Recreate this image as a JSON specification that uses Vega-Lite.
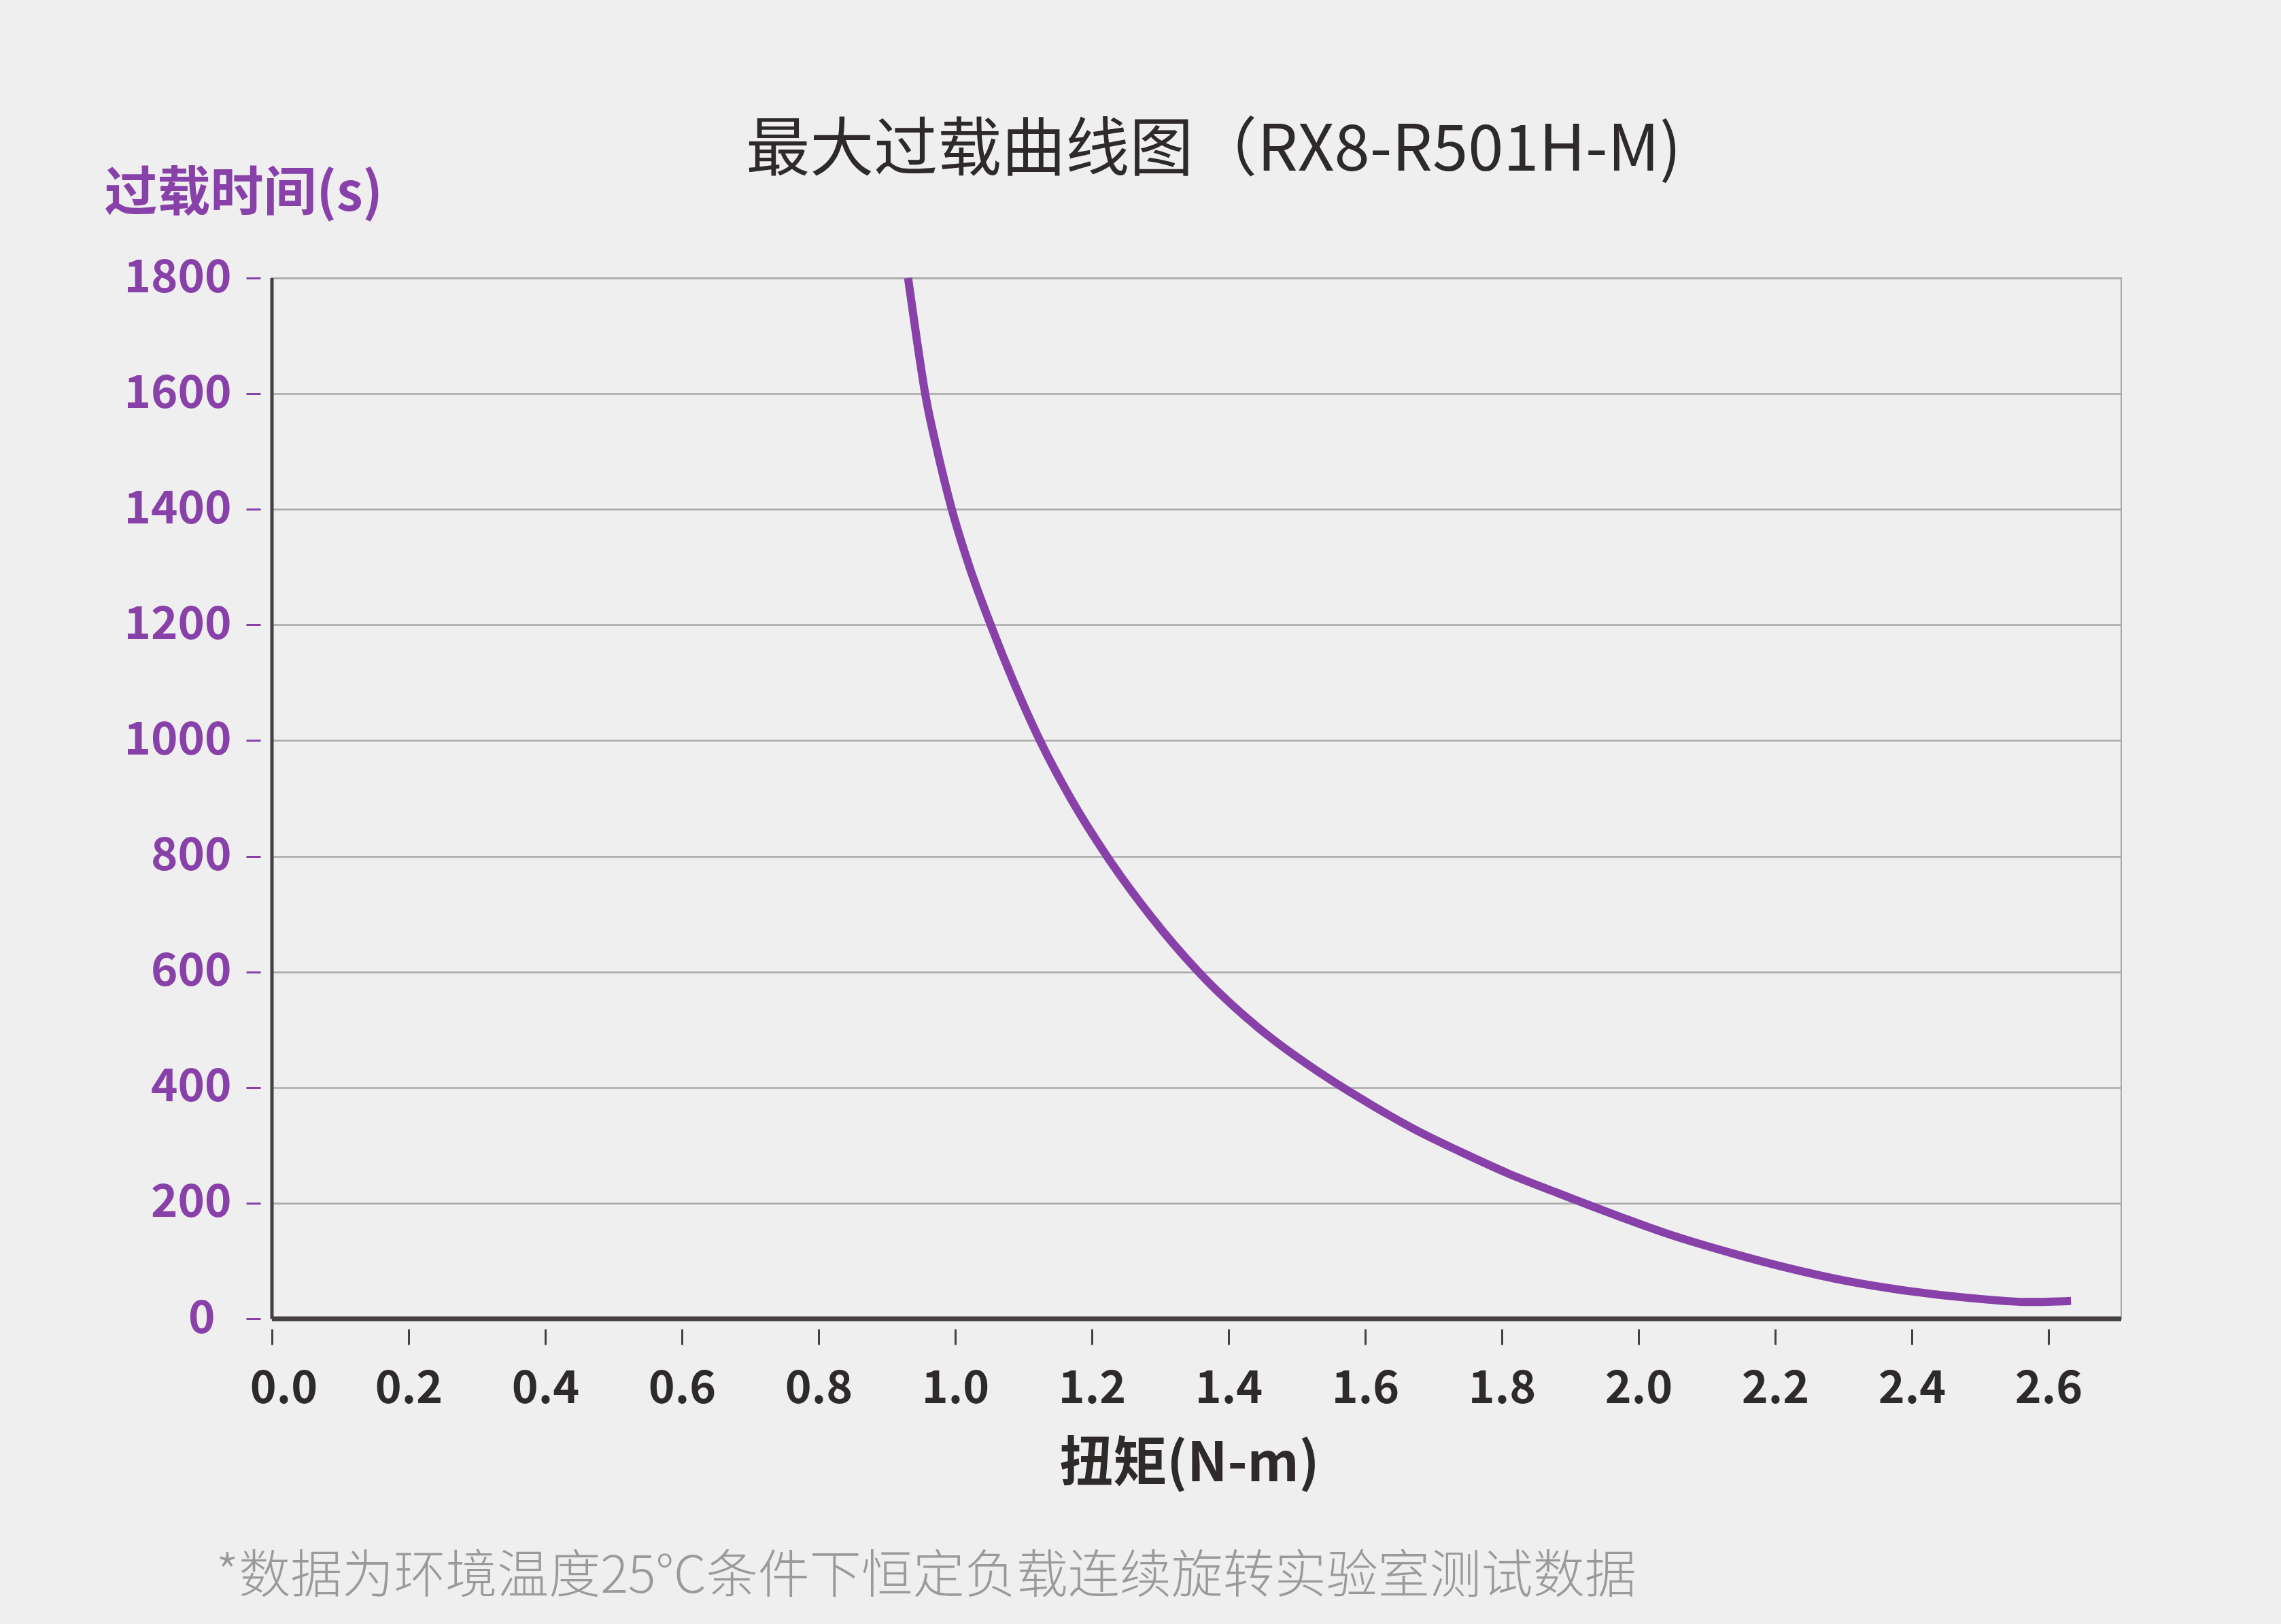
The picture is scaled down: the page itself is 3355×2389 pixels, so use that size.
{
  "$schema": "https://vega.github.io/schema/vega-lite/v6.json",
  "width": 2720,
  "height": 1531,
  "autosize": "none",
  "padding": {"left": 400, "top": 409, "right": 235, "bottom": 449},
  "background": "#efefef",
  "config": {
    "font": "Noto Sans CJK SC",
    "view": {"stroke": "#a9a9a9", "strokeWidth": 2}
  },
  "title": {
    "text": "最大过载曲线图（RX8-R501H-M)",
    "fontSize": 94,
    "fontWeight": "normal",
    "color": "#2f2a2a",
    "anchor": "middle",
    "frame": "group",
    "baseline": "bottom",
    "offset": 135,
    "dy": 253,
    "dx": 25
  },
  "layer": [
    {
      "data": {"values": [{"torque": 0}]},
      "mark": {"type": "rule", "color": "#454141", "strokeWidth": 5},
      "encoding": {
        "x": {
          "field": "torque",
          "type": "quantitative",
          "scale": {"domain": [0, 2.7065], "nice": false},
          "axis": {
            "orient": "bottom",
            "domain": false,
            "ticks": false,
            "labels": false,
            "grid": false,
            "title": "*数据为环境温度25°C条件下恒定负载连续旋转实验室测试数据",
            "titleFontSize": 76,
            "titleFontWeight": 300,
            "titleColor": "#9a9a9a",
            "titleAlign": "left",
            "titleBaseline": "top",
            "titleX": -83,
            "titleY": 342
          }
        }
      }
    },
    {
      "data": {"values": [{"time": 0}]},
      "mark": {"type": "rule", "color": "#454141", "strokeWidth": 7},
      "encoding": {
        "y": {"field": "time", "type": "quantitative"}
      }
    },
    {
      "data": {
        "values": [
          {"torque": 0.931, "time": 1800},
          {"torque": 0.943, "time": 1700},
          {"torque": 0.956, "time": 1600},
          {"torque": 0.974, "time": 1500},
          {"torque": 0.995, "time": 1400},
          {"torque": 1.021, "time": 1300},
          {"torque": 1.052, "time": 1200},
          {"torque": 1.086, "time": 1100},
          {"torque": 1.124, "time": 1000},
          {"torque": 1.169, "time": 900},
          {"torque": 1.222, "time": 800},
          {"torque": 1.285, "time": 698},
          {"torque": 1.356, "time": 600},
          {"torque": 1.443, "time": 504},
          {"torque": 1.542, "time": 419},
          {"torque": 1.609, "time": 370},
          {"torque": 1.675, "time": 326},
          {"torque": 1.741, "time": 288},
          {"torque": 1.808, "time": 252},
          {"torque": 1.874, "time": 221},
          {"torque": 1.974, "time": 176},
          {"torque": 2.040, "time": 148},
          {"torque": 2.129, "time": 116},
          {"torque": 2.218, "time": 88},
          {"torque": 2.306, "time": 65},
          {"torque": 2.395, "time": 48},
          {"torque": 2.484, "time": 36},
          {"torque": 2.573, "time": 29},
          {"torque": 2.633, "time": 31}
        ]
      },
      "mark": {"type": "line", "color": "#8841a8", "strokeWidth": 12, "interpolate": "monotone"},
      "encoding": {
        "x": {
          "field": "torque",
          "type": "quantitative",
          "scale": {"domain": [0, 2.7065], "nice": false},
          "axis": {
            "orient": "bottom",
            "values": [0, 0.2, 0.4, 0.6, 0.8, 1.0, 1.2, 1.4, 1.6, 1.8, 2.0, 2.2, 2.4, 2.6],
            "format": ".1f",
            "domain": false,
            "grid": false,
            "offset": 15,
            "tickSize": 23,
            "tickWidth": 3,
            "tickColor": "#454141",
            "labelFontSize": 66,
            "labelFontWeight": "bold",
            "labelColor": "#2f2a2a",
            "labelPadding": 33,
            "labelFlush": false,
            "labelOffset": {"condition": {"test": "datum.value == 0", "value": 17}, "value": 0},
            "title": "扭矩(N-m)",
            "titleFontSize": 79,
            "titleFontWeight": "bold",
            "titleColor": "#2f2a2a",
            "titlePadding": 40,
            "titleX": 1349
          }
        },
        "y": {
          "field": "time",
          "type": "quantitative",
          "scale": {"domain": [0, 1800], "nice": false},
          "axis": {
            "values": [0, 200, 400, 600, 800, 1000, 1200, 1400, 1600, 1800],
            "format": "d",
            "domain": false,
            "grid": true,
            "gridColor": "#a9a9a9",
            "gridWidth": 2.5,
            "offset": 17,
            "tickSize": 21,
            "tickWidth": 3,
            "tickColor": "#8841a8",
            "labelFontSize": 67,
            "labelFontWeight": "bold",
            "labelColor": "#8841a8",
            "labelPadding": {"condition": {"test": "datum.value == 0", "value": 46}, "value": 22},
            "title": "过载时间(s)",
            "titleAngle": 0,
            "titleAlign": "left",
            "titleBaseline": "top",
            "titleX": -230,
            "titleY": -162,
            "titleFontSize": 78,
            "titleFontWeight": "bold",
            "titleColor": "#8841a8"
          }
        }
      }
    }
  ],
  "resolve": {"scale": {"x": "independent"}}
}
